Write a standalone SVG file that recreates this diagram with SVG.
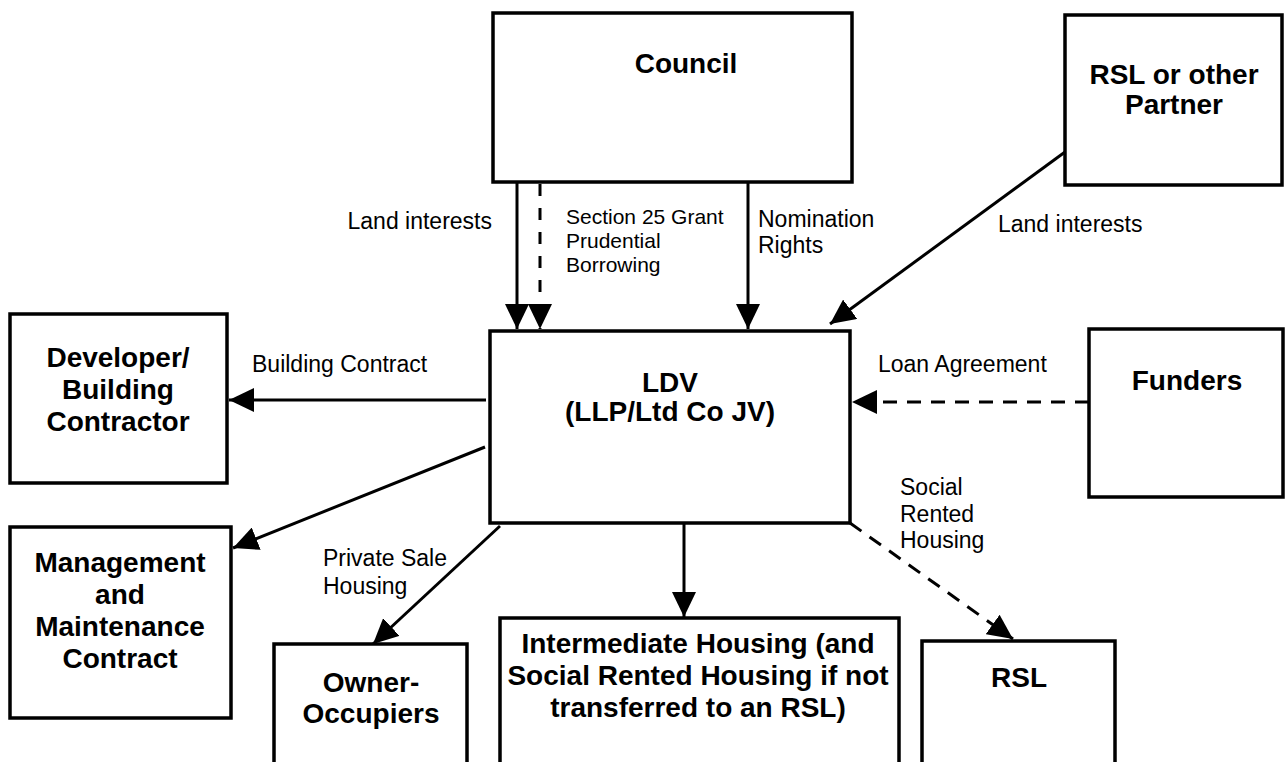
<svg xmlns="http://www.w3.org/2000/svg" width="1285" height="762" viewBox="0 0 1285 762">
<defs>
<style>
.box{fill:#fff;stroke:#000;stroke-width:3.5}
.bt{font-family:"Liberation Sans",Arial,sans-serif;font-weight:bold;font-size:28px;fill:#000;text-anchor:middle}
.lt{font-family:"Liberation Sans",Arial,sans-serif;font-size:23px;fill:#000}
.st{font-family:"Liberation Sans",Arial,sans-serif;font-size:21px;fill:#000}
.c{fill:none;stroke:#000;stroke-width:3;marker-end:url(#ah)}
.d{stroke-dasharray:14 10}
</style>
<marker id="ah" markerUnits="userSpaceOnUse" markerWidth="26" markerHeight="24" refX="25" refY="12" orient="auto" viewBox="0 0 26 24">
<path d="M0,0 L25,12 L0,24 z" fill="#000"/>
</marker>
</defs>
<rect width="1285" height="762" fill="#fff"/>

<g id="council">
<rect class="box" x="493" y="13" width="359" height="169"/>
<text class="bt" x="686" y="73">Council</text>
</g>
<g id="rsl-partner">
<rect class="box" x="1065" y="15" width="217" height="170"/>
<text class="bt" x="1174" y="84">RSL or other</text>
<text class="bt" x="1174" y="114">Partner</text>
</g>
<g id="ldv">
<rect class="box" x="490" y="331" width="360" height="192"/>
<text class="bt" x="670" y="392">LDV</text>
<text class="bt" x="670" y="421">(LLP/Ltd Co JV)</text>
</g>
<g id="developer">
<rect class="box" x="10" y="314" width="217" height="169"/>
<text class="bt" x="118" y="367">Developer/</text>
<text class="bt" x="118" y="399">Building</text>
<text class="bt" x="118" y="431">Contractor</text>
</g>
<g id="funders">
<rect class="box" x="1089" y="329" width="194" height="168"/>
<text class="bt" x="1187" y="390">Funders</text>
</g>
<g id="management">
<rect class="box" x="10" y="527" width="221" height="191"/>
<text class="bt" x="120" y="572">Management</text>
<text class="bt" x="120" y="604">and</text>
<text class="bt" x="120" y="636">Maintenance</text>
<text class="bt" x="120" y="668">Contract</text>
</g>
<g id="owner-occupiers">
<rect class="box" x="274" y="644" width="193" height="130"/>
<text class="bt" x="371" y="692">Owner-</text>
<text class="bt" x="371" y="723">Occupiers</text>
</g>
<g id="intermediate">
<rect class="box" x="500" y="618" width="399" height="156"/>
<text class="bt" x="698" y="653">Intermediate Housing (and</text>
<text class="bt" x="698" y="685">Social Rented Housing if not</text>
<text class="bt" x="698" y="717">transferred to an RSL)</text>
</g>
<g id="rsl">
<rect class="box" x="922" y="641" width="193" height="133"/>
<text class="bt" x="1019" y="687">RSL</text>
</g>

<g id="connectors">
<line class="c" x1="517" y1="182" x2="517" y2="329"/>
<line class="c d" style="stroke-dasharray:12 12" x1="540" y1="184" x2="540" y2="329"/>
<line class="c" x1="748" y1="182" x2="748" y2="329"/>
<line class="c" x1="1065" y1="152" x2="830" y2="324"/>
<line class="c" x1="486" y1="400" x2="229" y2="400"/>
<line class="c" x1="485" y1="447" x2="233" y2="548"/>
<line class="c" x1="500" y1="526" x2="373" y2="644"/>
<line class="c" x1="684" y1="523" x2="684" y2="617"/>
<line class="c d" x1="850" y1="523" x2="1013" y2="639"/>
<line class="c d" x1="1089" y1="402" x2="852" y2="402"/>

<text class="lt" x="492" y="229" text-anchor="end">Land interests</text>
<text class="st" x="566" y="224">Section 25 Grant</text>
<text class="st" x="566" y="248">Prudential</text>
<text class="st" x="566" y="272">Borrowing</text>
<text class="lt" x="758" y="227">Nomination</text>
<text class="lt" x="758" y="253">Rights</text>
<text class="lt" x="998" y="232">Land interests</text>
<text class="lt" x="252" y="372">Building Contract</text>
<text class="lt" x="878" y="372">Loan Agreement</text>
<text class="lt" x="900" y="495">Social</text>
<text class="lt" x="900" y="522">Rented</text>
<text class="lt" x="900" y="548">Housing</text>
<text class="lt" x="323" y="566">Private Sale</text>
<text class="lt" x="323" y="594">Housing</text>
</g>
</svg>
